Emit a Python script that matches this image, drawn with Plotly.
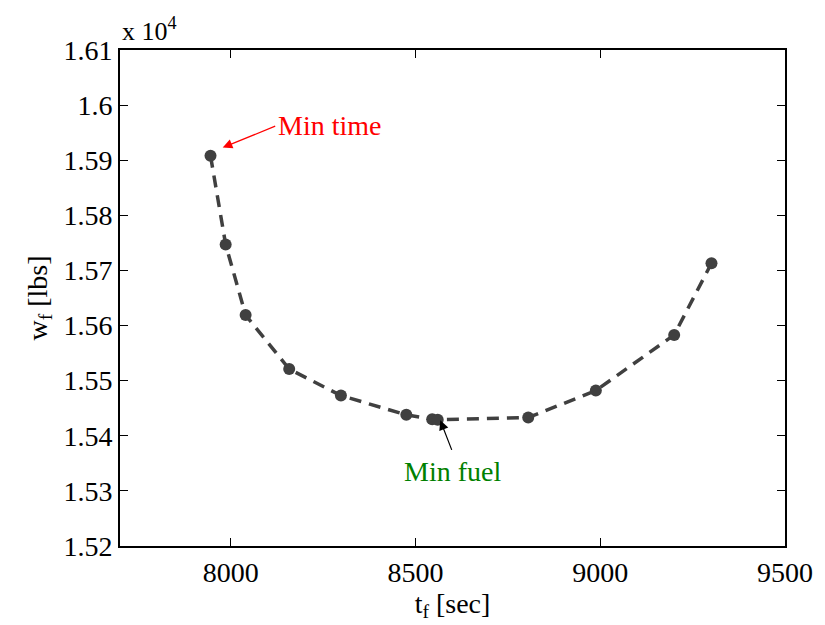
import plotly.graph_objects as go

tf = [7945, 7986, 8040, 8158, 8298, 8475, 8545, 8560, 8805, 8988, 9200, 9301]
wf = [15908, 15747, 15619, 15521, 15473, 15438, 15430, 15429, 15433, 15482, 15583, 15713]

y_ticks = [15200, 15300, 15400, 15500, 15600, 15700, 15800, 15900, 16000, 16100]
y_ticktext = ["1.52", "1.53", "1.54", "1.55", "1.56", "1.57", "1.58", "1.59", "1.6", "1.61"]
x_ticks = [8000, 8500, 9000, 9500]

FONT = "Liberation Serif"
col = "#404040"

fig = go.Figure()
fig.add_trace(go.Scatter(
    x=tf, y=wf, mode="lines+markers",
    line=dict(color=col, width=3.5, dash="12px,8px"),
    marker=dict(color=col, size=12),
    showlegend=False, hoverinfo="skip",
))

axis_common = dict(
    showgrid=False, zeroline=False, showline=True, linecolor="black", linewidth=2,
    mirror="ticks", ticks="inside", ticklen=8, tickwidth=1, tickcolor="black",
    tickfont=dict(family=FONT, size=28, color="black"),
)

fig.update_xaxes(range=[7700, 9500], tickvals=x_ticks,
                 title=dict(text="t<sub>f</sub> [sec]", font=dict(family=FONT, size=28, color="black"), standoff=6),
                 **axis_common)
fig.update_yaxes(range=[15200, 16100], tickvals=y_ticks, ticktext=y_ticktext,
                 title=dict(text="w<sub>f</sub> [lbs]", font=dict(family=FONT, size=28, color="black"), standoff=8),
                 **axis_common)

# Min time
fig.add_annotation(x=7978, y=15923, ax=54, ay=-22,
                   text="", showarrow=True, arrowhead=2, arrowsize=1.6, arrowwidth=1.2, arrowcolor="red")
fig.add_annotation(x=8122, y=15963, text="Min time", showarrow=False, xanchor="left",
                   font=dict(family=FONT, size=28, color="red"))
# Min fuel
fig.add_annotation(x=8567, y=15428, text="", showarrow=True, arrowhead=2, arrowsize=1.6,
                   arrowwidth=1.2, arrowcolor="black", ax=12, ay=31)
fig.add_annotation(x=8600, y=15335, text="Min fuel", showarrow=False,
                   font=dict(family=FONT, size=28, color="green"))

fig.add_annotation(xref="paper", yref="paper", x=0, y=1, xanchor="left", yanchor="bottom",
                   text="x 10<sup>4</sup>", showarrow=False, yshift=2,
                   font=dict(family=FONT, size=26, color="black"))

fig.update_layout(
    width=825, height=625, margin=dict(l=120, r=37, t=50, b=77),
    paper_bgcolor="white", plot_bgcolor="white",
)

fig.write_html("out.html")
